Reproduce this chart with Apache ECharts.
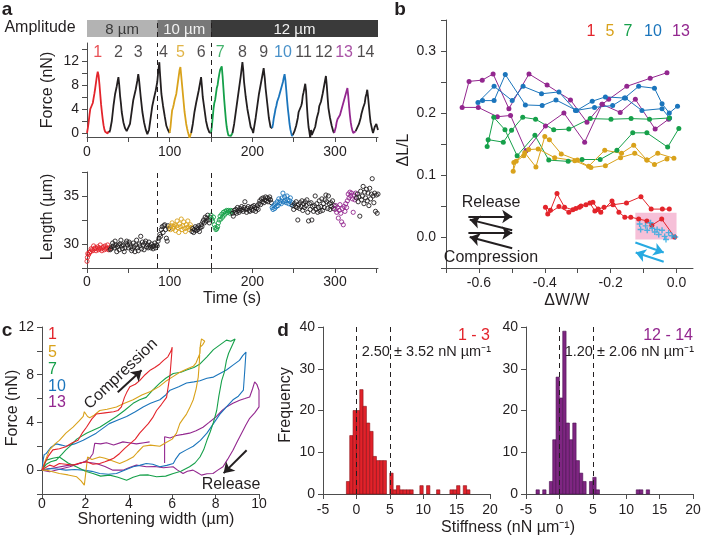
<!DOCTYPE html>
<html><head><meta charset="utf-8">
<script src="https://cdn.jsdelivr.net/npm/echarts@6/dist/echarts.min.js"></script>
<style>html,body{margin:0;padding:0;background:#fff}#c{width:701px;height:537px}</style>
</head><body><div id="c"></div><script>
// ---------------- DATA ----------------
// Panel a: amplitude segments
const ampStart = [0, 85, 150];
const ampEnd = [85, 150, 352];
const ampText = ['8 µm', '10 µm', '12 µm'];
const stepTimes = [85, 150];
// cycle labels
const cycleNames = ['1','2','3','4','5','6','7','8','9','10','11','12','13','14'];
const cycleTimes = [13, 38, 62, 92.5, 113, 138, 161, 188, 213.7, 237, 262, 286.5, 311, 337];
// force traces [t(s), F(nN)]
const forceRed = [[0,0],[1,0.8],[2,1.8],[3,3],[4,4],[5,4.3],[6,4.2],[7,5],[8,5.8],[9,6.6],[10,7.5],[11,8.5],[12,9.5],[13,10.2],[14,9.6],[15,8.2],[16,6.5],[17,4.8],[18,3.5],[19,2.3],[20,1.3],[21,0.6],[22,0.2],[23,0.5],[24,0.1],[25,-0.1],[26,0.3],[27,0.1]];
const forceBlack1 = [[27,0.1],[28,0.5],[30,2],[32,4.5],[34,6.5],[35,6.8],[36,7.8],[37,8.6],[38,9.3],[39,8],[40,6.2],[41,5],[42,3.5],[44,1.8],[46,0.8],[48,0.3],[50,0],[52,1.5],[54,3.5],[56,5.5],[57,5.8],[59,7.3],[61,8.8],[62,9.8],[63,8.8],[65,6],[67,3.5],[69,1.8],[71,0.6],[73,-0.2],[74,-0.5],[75,0.5],[77,2.5],[79,4.5],[81,5.8],[83,7],[85,8.5],[86,10],[87.5,11.8],[88,10.5],[89,8.5],[90,6.5],[92,4.5],[94,2.8],[96,1.2],[98,0.5],[100,0]];
const forceGold = [[100,0],[101,1],[102,2.5],[103,3.8],[104,4.2],[105,4.8],[106,5.5],[107,5.2],[108,6.5],[109,7.5],[110,8.5],[111,9.5],[112,10.5],[113,11],[114,9.5],[115,8],[116,6.5],[117,5],[118,3.5],[119,2.5],[120,1.5],[121,0.8],[122,0.2],[123,-0.3],[124,-0.8],[125,-0.5],[126,0]];
const forceBlack2 = [[126,0],[128,1.5],[130,3.5],[132,5],[133,5.3],[135,7],[137,8.5],[138,9.3],[139,7.8],[140,6],[142,4],[144,2],[146,0.8],[148,0.1],[149,0.3],[150,0]];
const forceGreen = [[150,0],[151,1],[152,2.5],[153,4],[154,5],[155,5.5],[156,6.5],[157,7.5],[158,8],[159,9],[160,9.8],[161,10.5],[162,10.8],[163,11.1],[164,9.5],[165,7.5],[166,5.5],[167,3.8],[168,2.2],[169,1],[170,0.2],[171,-0.4],[172,-0.6],[173,-0.3],[174,-0.5],[175,-0.2],[176,0]];
const forceBlack3 = [[176,0],[178,1.5],[180,3.5],[182,5.5],[184,7.5],[186,9.5],[188,11.8],[189,10.5],[190,8.5],[192,6],[194,4],[196,2.5],[198,1],[200,0.5],[201,0],[202,0.8],[204,2.5],[206,4.5],[208,6.5],[210,8],[212,9.5],[213.7,10.8],[215,9.2],[216,7.5],[218,5],[220,2.5],[222,1],[224,0.8]];
const forceBlue = [[224,0.8],[225,1.5],[226,2.5],[227,3.2],[228,4],[229,4.5],[230,5.2],[231,5.5],[232,6],[233,6.5],[234,7],[235,7.5],[236,8],[237,8.5],[238,9.2],[239,9.8],[240,8.8],[241,7.2],[242,5.5],[243,4],[244,2.8],[245,1.5],[246,0.6],[247,0],[248,-0.5],[249,-0.3]];
const forceBlack4 = [[249,-0.3],[251,0.3],[253,1.2],[255,2.5],[256,3.5],[258,3.2],[259,4.5],[260,5],[261,6.2],[262,6.8],[263,7.5],[264,8.2],[265,7],[266,4.5],[267,2.5],[268,1],[269,0.2],[270,-0.8],[271,0.5],[272,-0.3],[274,0],[276,1],[278,2.5],[280,3.5],[281,4.5],[283,5.2],[285,6.5],[287,8],[289,9.5],[290,8],[291,6],[292,4.2],[294,2.5],[296,1.2],[298,0.2],[299,0]];
const forcePurple = [[299,0],[300,0.5],[301,1],[302,1.8],[303,2.3],[304,2.5],[305,2.2],[306,3],[307,3.5],[308,4],[309,4.5],[310,5],[311,5.5],[312,6],[313,6.5],[314,7],[315,7.5],[316,6.2],[317,4.5],[318,3],[319,1.8],[320,1],[321,0.4],[322,0],[323,0.2],[324,-0.2],[325,0.3]];
const forceBlack5 = [[325,0.3],[327,0.5],[329,1.5],[331,2.5],[332,3.2],[334,4.2],[336,5],[337,6],[338,6.5],[339,7.2],[340,6],[341,4.5],[342,3],[343,1.8],[345,0.5],[346,0],[347,0.3],[348,1],[349,1.3],[350,1.5],[351,1.2],[352,0.5]];
// length [t(s), L(µm)]
const lenRed = [[0,28.2],[0.5,28.6],[1,29.0],[2,28.9],[3,29.1],[4,29.2],[5,29.5],[6,29.4],[7,29.3],[8,29.8],[9,29.5],[10,29.6],[11,29.3],[12,29.5],[13,29.7],[14,29.4],[15,29.6],[16,29.9],[17,29.5],[18,29.3],[19,29.6],[20,29.7],[21,29.4],[22,29.8],[23,29.5],[24,29.6],[25,29.9],[26,29.4],[27,29.6]];
const lenBlack1 = [[28,29.4],[29,29.5],[30,29.7],[31,30.1],[32,29.8],[33,29.6],[34,30.3],[35,29.9],[36,29.2],[37,29.7],[38,29.9],[39,29.4],[40,30.0],[41,30.4],[42,29.8],[43,29.5],[44,29.9],[45,29.2],[46,29.6],[47,30.1],[48,30.3],[49,29.9],[50,29.6],[51,30.2],[52,30.0],[53,29.7],[54,29.3],[55,29.5],[56,30.1],[57,29.7],[58,29.2],[59,29.9],[60,30.4],[61,29.6],[62,29.3],[63,30.0],[64,29.8],[65,30.8],[66,29.5],[67,30.2],[68,29.9],[69,29.4],[70,30.1],[71,30.3],[72,29.7],[73,29.9],[74,29.6],[75,30.2],[76,29.8],[77,29.6],[78,30.0],[79,29.7],[80,29.5],[81,29.8],[82,30.1],[83,29.6],[84,29.9],[85,29.8],[86,30.3],[87,30.6],[88,31.0],[89,30.8],[90,31.5],[91,31.8],[92,31.2],[93,31.9],[94,32.0],[95,31.5],[96,30.6],[97,30.3],[98,31.9],[99,31.6]];
const lenGold = [[100,31.8],[101,31.5],[102,31.9],[103,32.2],[104,31.6],[105,31.8],[106,32.0],[107,31.4],[108,31.9],[109,32.4],[110,31.7],[111,31.2],[112,32.1],[113,31.8],[114,32.6],[115,31.5],[116,31.9],[117,32.3],[118,31.6],[119,31.3],[120,32.0],[121,31.7],[122,32.4],[123,31.8],[124,31.5],[125,32.0],[126,31.7]];
const lenBlack2 = [[127,31.3],[128,31.6],[129,31.2],[130,31.5],[131,31.8],[132,31.4],[133,31.7],[134,31.5],[135,31.9],[136,31.3],[137,31.7],[138,32.0],[139,31.8],[140,32.3],[141,32.5],[142,32.2],[143,32.8],[144,32.4],[145,32.7],[146,33.0],[147,32.5],[148,32.2],[149,32.8]];
const lenGreen = [[150,33.0],[151,32.6],[152,32.4],[153,32.8],[154,32.0],[155,31.7],[156,31.5],[157,31.6],[158,31.8],[159,32.2],[160,32.5],[161,32.9],[162,32.6],[163,33.1],[164,32.8],[165,33.3],[166,33.0],[167,33.4],[168,33.2],[169,33.5],[170,33.3],[171,33.5],[172,33.4],[173,33.2],[174,33.5],[175,33.4]];
const lenBlack3 = [[176,33.2],[177,32.9],[178,33.5],[179,33.3],[180,33.6],[181,33.2],[182,33.8],[183,33.5],[184,33.3],[185,33.7],[186,33.5],[187,33.9],[188,33.6],[189,33.4],[190,33.8],[191,34.4],[192,33.6],[193,33.3],[194,33.7],[195,33.9],[196,33.5],[197,33.4],[198,33.8],[199,33.6],[200,33.9],[201,33.5],[202,34.0],[203,33.8],[204,33.4],[205,33.7],[206,34.0],[207,33.6],[208,34.2],[209,34.5],[210,34.1],[211,34.7],[212,34.4],[213,34.8],[214,34.3],[215,34.6],[216,34.9],[217,34.5],[218,34.8],[219,34.4],[220,34.7],[221,34.9],[222,34.6],[223,34.3]];
const lenBlue = [[224,33.8],[225,33.6],[226,34.0],[227,33.7],[228,34.2],[229,33.9],[230,34.4],[231,34.0],[232,34.7],[233,34.3],[234,34.5],[235,34.2],[236,34.8],[237,35.3],[238,34.4],[239,34.9],[240,34.5],[241,34.3],[242,35.0],[243,34.6],[244,34.2],[245,34.5],[246,34.8],[247,34.1],[248,34.3]];
const lenBlack4 = [[249,34.0],[250,33.6],[251,34.2],[252,33.9],[253,34.4],[254,33.8],[255,32.5],[256,34.1],[257,33.7],[258,34.3],[259,33.9],[260,34.5],[261,33.5],[262,34.2],[263,33.8],[264,34.4],[265,34.0],[266,34.6],[267,33.3],[268,32.4],[269,34.2],[270,33.6],[271,34.3],[272,32.5],[273,33.9],[274,33.4],[275,34.0],[276,35.0],[277,33.6],[278,34.2],[279,33.3],[280,33.8],[281,34.5],[282,33.4],[283,33.9],[284,34.7],[285,33.5],[286,34.2],[287,33.8],[288,34.6],[289,35.1],[290,34.4],[291,33.7],[292,35.0],[293,34.2],[294,33.6],[295,34.3],[296,33.9],[297,34.5],[298,33.7],[299,34.0]];
const lenPurple = [[300,33.6],[301,34.0],[302,33.3],[303,33.8],[304,32.7],[305,33.5],[306,34.1],[307,33.2],[308,32.3],[309,33.7],[310,32.0],[311,33.9],[312,33.4],[313,34.2],[314,33.8],[315,34.5],[316,35.2],[317,34.8],[318,35.4],[319,35.0],[320,35.3],[321,34.7],[322,33.3],[323,35.1],[324,34.6],[325,35.3]];
const lenBlack5 = [[326,34.8],[327,35.2],[328,34.4],[329,34.9],[330,32.9],[331,35.5],[332,34.6],[333,35.0],[334,36.0],[335,34.2],[336,35.4],[337,34.8],[338,35.7],[339,34.5],[340,35.3],[341,34.0],[342,35.8],[343,34.7],[344,35.2],[345,36.8],[346,35.0],[347,34.3],[348,35.3],[349,33.4],[350,35.1],[351,33.2],[352,35.2]];
const timeTicks = [0,50,100,150,200,250,300,350];
const timeLabels = [0,100,200,300];
const forceTicks = [0,2,4,6,8,10,12,14];
const forceLabels = [0,4,8,12];
const lengthTicks = [27.5,30,32.5,35,37.5];
const lengthLabels = [30,35];

// Panel b: [ΔW/W, ΔL/L]
const bNames = ['1','5','7','10','13'];
const bRed = [[-0.006,0.0],[-0.045,0.029],[-0.075,0.019],[-0.09,0.026],[-0.115,0.029],[-0.139,0.032],[-0.157,0.032],[-0.175,0.040],[-0.196,0.058],[-0.230,0.040],[-0.248,0.042],[-0.263,0.055],[-0.290,0.050],[-0.306,0.046],[-0.327,0.040],[-0.357,0.049],[-0.391,0.037],[-0.398,0.048],[-0.383,0.043],[-0.363,0.070],[-0.340,0.048],[-0.315,0.044],[-0.295,0.048],[-0.275,0.052],[-0.254,0.056],[-0.238,0.045],[-0.220,0.048],[-0.193,0.052],[-0.152,0.055],[-0.108,0.065],[-0.077,0.045],[-0.043,0.045],[-0.022,0.045]];
const bGold = [[-0.008,0.127],[-0.057,0.135],[-0.090,0.124],[-0.130,0.148],[-0.167,0.135],[-0.218,0.140],[-0.267,0.114],[-0.301,0.124],[-0.350,0.134],[-0.386,0.157],[-0.400,0.162],[-0.427,0.113],[-0.461,0.136],[-0.494,0.120],[-0.496,0.106],[-0.487,0.122],[-0.464,0.131],[-0.449,0.141],[-0.420,0.142],[-0.370,0.128],[-0.309,0.123],[-0.260,0.112],[-0.216,0.115],[-0.170,0.128],[-0.127,0.135],[-0.090,0.124],[-0.067,0.117],[-0.029,0.126]];
const bGreen = [[0.007,0.175],[-0.027,0.145],[-0.090,0.168],[-0.133,0.168],[-0.181,0.140],[-0.232,0.125],[-0.287,0.125],[-0.329,0.122],[-0.388,0.124],[-0.430,0.164],[-0.484,0.131],[-0.521,0.173],[-0.555,0.193],[-0.575,0.146],[-0.572,0.157],[-0.526,0.153],[-0.501,0.172],[-0.467,0.193],[-0.428,0.190],[-0.373,0.173],[-0.327,0.174],[-0.262,0.191],[-0.199,0.190],[-0.138,0.191],[-0.082,0.190],[-0.022,0.192]];
const bBlue = [[0.003,0.211],[-0.022,0.200],[-0.044,0.215],[-0.067,0.240],[-0.115,0.243],[-0.158,0.224],[-0.194,0.212],[-0.249,0.209],[-0.307,0.204],[-0.357,0.234],[-0.410,0.231],[-0.466,0.243],[-0.499,0.220],[-0.554,0.243],[-0.603,0.217],[-0.589,0.220],[-0.554,0.220],[-0.520,0.262],[-0.459,0.213],[-0.408,0.212],[-0.366,0.221],[-0.303,0.204],[-0.256,0.219],[-0.216,0.226],[-0.155,0.224],[-0.105,0.204],[-0.044,0.207],[-0.021,0.192]];
const bPurple = [[-0.024,0.190],[-0.065,0.174],[-0.125,0.222],[-0.171,0.201],[-0.226,0.214],[-0.279,0.153],[-0.342,0.200],[-0.398,0.179],[-0.457,0.139],[-0.504,0.196],[-0.544,0.194],[-0.602,0.209],[-0.651,0.209],[-0.630,0.251],[-0.590,0.253],[-0.557,0.263],[-0.509,0.207],[-0.448,0.263],[-0.393,0.245],[-0.322,0.221],[-0.272,0.185],[-0.226,0.214],[-0.206,0.222],[-0.151,0.243],[-0.080,0.256],[-0.029,0.265]];
const bCross = [[-0.112,0.021],[-0.109,0.012],[-0.094,0.018],[-0.089,0.011],[-0.079,0.023],[-0.074,0.014],[-0.066,0.008],[-0.059,0.012],[-0.054,0.004],[-0.044,0.011],[-0.036,0.001],[-0.032,-0.004],[-0.024,0.007],[-0.014,0.002],[-0.004,0.0]];
const bBox = [[-0.125, 0.039], [0.0, -0.004]];
const bArrowsBlack = [[[-0.632,0.033],[-0.499,0.033]],[[-0.499,0.011],[-0.628,0.028]],[[-0.632,0.0065],[-0.499,0.0065]],[[-0.499,-0.018],[-0.628,0.0]]];
const bArrowsCyan = [[[-0.125,-0.009],[-0.039,-0.025]],[[-0.039,-0.040],[-0.124,-0.025]]];
const bxTicks = [-0.7,-0.6,-0.5,-0.4,-0.3,-0.2,-0.1,0];
const bxLabels = [-0.6,-0.4,-0.2,0];
const byTicks = [-0.05,0,0.05,0.1,0.15,0.2,0.25,0.3,0.35];
const byLabels = [0,0.1,0.2,0.3];

// Panel c: [shortening width (µm), force (nN)]
const cRed = [[0,0],[0.12,0.56],[0.3,1.2],[0.5,1.7],[0.8,1.8],[1.1,1.96],[1.4,2.3],[1.66,2.5],[1.85,3.1],[2.05,3.6],[2.3,4.3],[2.5,4.7],[2.9,4.8],[3.3,4.9],[3.5,5.0],[3.66,5.3],[3.8,6.1],[3.9,6.5],[4.05,7.0],[4.3,7.2],[4.5,7.5],[4.75,8.0],[5.0,8.4],[5.2,8.6],[5.43,8.9],[5.6,9.2],[5.8,9.5],[5.95,10.0],[6.0,10.3],[5.98,9.8],[5.9,8.0],[5.74,6.1],[5.5,5.5],[5.28,5.0],[5.1,4.4],[4.9,3.9],[4.7,3.5],[4.5,3.1],[4.3,2.6],[4.05,2.2],[3.8,1.8],[3.58,1.4],[3.3,1.0],[3.1,0.84],[2.9,0.7],[2.66,0.56],[2.35,0.5],[2.05,0.7],[1.75,0.6],[1.43,0.42],[1.1,0.5],[0.8,0.56],[0.55,0.3],[0.35,0.42],[0.15,0.2],[0,0]];
const cGold = [[0,0],[0.15,0.8],[0.35,1.7],[0.6,2.2],[0.8,2.5],[1.1,3.1],[1.43,3.6],[1.7,4.1],[1.9,4.5],[1.95,4.9],[2.1,4.5],[2.2,4.4],[2.4,4.6],[2.66,5.0],[3.0,5.1],[3.43,5.3],[3.8,5.6],[4.2,5.9],[4.6,6.3],[5.0,6.6],[5.4,7.0],[5.74,7.5],[6.0,7.8],[6.35,8.2],[6.7,8.5],[6.97,8.7],[7.1,9.0],[7.28,9.8],[7.3,10.5],[7.35,11.0],[7.5,10.8],[7.4,10.5],[7.28,10.3],[7.25,9.0],[7.2,7.8],[7.1,6.8],[6.97,5.9],[6.8,5.2],[6.66,4.7],[6.5,4.3],[6.35,3.9],[6.2,3.1],[6.0,2.6],[5.7,2.3],[5.43,2.0],[5.0,2.1],[4.66,2.0],[4.4,1.5],[4.2,1.1],[3.9,0.8],[3.58,0.56],[3.2,0.8],[2.9,1.0],[2.66,1.1],[2.3,0.9],[2.1,1.1],[2.0,-0.5],[1.95,-1.26],[1.8,-0.9],[1.6,-0.56],[1.2,-0.4],[0.8,-0.28],[0.4,-0.1],[0.2,0],[0,0]];
const cGreen = [[0,0],[0.2,0.5],[0.4,0.7],[0.66,0.84],[0.9,1.3],[1.1,1.7],[1.28,2.0],[1.6,2.6],[2.05,3.1],[2.3,3.3],[2.66,3.6],[3.0,4.0],[3.43,4.5],[3.8,5.0],[4.2,5.6],[4.5,5.9],[4.8,6.1],[5.1,6.7],[5.43,7.3],[5.7,7.7],[6.05,8.1],[6.4,8.2],[6.66,8.4],[7.0,8.6],[7.28,8.9],[7.6,9.5],[7.9,10.1],[8.2,10.5],[8.5,10.9],[8.7,10.8],[8.9,11.0],[8.95,10.9],[8.8,10.6],[8.6,9.8],[8.5,9.2],[8.4,8.2],[8.28,7.5],[8.15,6.2],[8.05,5.0],[7.9,4.0],[7.75,3.2],[7.6,2.5],[7.45,1.7],[7.28,1.1],[7.05,0.6],[6.8,0.28],[6.4,-0.1],[6.05,-0.28],[5.7,-0.5],[5.28,-0.56],[4.9,-0.4],[4.5,-0.42],[4.2,-0.6],[3.9,-0.84],[3.5,-0.6],[3.12,-0.42],[2.7,-0.5],[2.35,-0.28],[2.0,-0.1],[1.58,0.28],[1.2,0.6],[0.8,1.1],[0.5,1.0],[0.2,0.84],[0,0]];
const cBlue = [[0,0],[0.05,0.8],[0.1,1.3],[0.2,1.4],[0.4,1.9],[0.66,2.2],[0.9,2.1],[1.1,2.0],[1.5,2.2],[1.9,2.5],[2.2,2.8],[2.5,3.1],[2.8,3.5],[3.1,3.9],[3.5,4.2],[3.9,4.5],[4.3,4.9],[4.66,5.3],[5.0,5.6],[5.43,5.9],[5.7,6.3],[5.9,6.7],[6.3,7.0],[6.66,7.3],[7.0,7.4],[7.28,7.5],[7.6,7.7],[7.9,7.8],[8.2,8.1],[8.5,8.4],[8.8,8.8],[9.1,9.2],[9.25,9.6],[9.4,9.9],[9.35,8.5],[9.28,6.7],[9.05,6.2],[8.8,5.9],[8.5,5.3],[8.2,4.7],[7.9,3.9],[7.6,3.1],[7.3,2.5],[6.97,2.0],[6.65,1.7],[6.35,1.4],[6.15,0.9],[6.05,0.56],[5.75,0.4],[5.43,0.28],[5.1,0.5],[4.8,0.56],[4.5,0.4],[4.2,0.28],[3.8,0],[3.43,-0.28],[3.05,-0.35],[2.66,-0.28],[2.3,-0.1],[1.9,0],[1.5,0.05],[1.1,0],[0.7,0.1],[0.35,0.14],[0,0]];
const cPurpleA = [[0,0],[0.6,0.2],[1.2,0.4],[1.6,0.5],[1.97,0.7],[2.2,1.0],[2.35,1.4],[2.43,2.25],[2.7,2.2],[2.97,2.3],[3.3,2.1],[3.73,2.37],[4.0,2.3],[4.35,2.2],[4.7,2.3],[4.96,2.37]];
const cPurpleB = [[5.65,0.6],[5.65,2.8],[5.9,2.7],[6.19,2.9],[6.5,3.0],[6.8,3.1],[7.1,3.3],[7.42,3.6],[7.7,4.0],[8.04,4.5],[8.3,5.0],[8.5,5.3],[8.8,5.6],[9.11,5.86],[9.35,6.0],[9.57,6.13],[9.7,6.8],[9.8,7.4],[9.9,7.2],[10.0,6.7],[10.0,5.3],[9.8,4.8],[9.57,4.35],[9.4,3.8],[9.27,3.35],[9.0,2.4],[8.8,1.67],[8.55,0.9],[8.34,0.28],[8.1,0],[7.88,-0.28],[7.6,-0.3],[7.35,-0.42],[7.15,-0.2],[6.96,0],[6.7,-0.1],[6.5,-0.28],[6.25,0],[6.04,0.28],[5.6,0.2],[5.2,0.3],[4.81,0.28],[4.35,0.42],[4.0,0.2],[3.73,0],[3.27,0],[2.9,0.3],[2.5,0.56],[1.97,0.7],[1.28,0.28],[0.35,-0.14],[0,0]];
const cNames = ['1','5','7','10','13'];
const cArrows = [[[3.49,6.53],[4.59,8.37]],[[9.43,1.67],[8.37,-0.25]]];
const cxTicks = [0,2,4,6,8,10];
const cxLabels = [0,2,4,6,8,10];
const cyTicks = [-2,0,2,4,6,8,10,12];
const cyLabels = [0,4,8,12];

// Panel d: histograms [bin start, count], bin width 0.5 nN/µm
const histBin = 0.5;
const dLeft = [[-1.5,3],[-1,14],[-0.5,20],[0,20],[0.5,25],[1,21],[1.5,17],[2,15],[2.5,9],[3,8],[3.5,8],[4,8],[5,5],[5.5,1],[6,2],[6.5,1],[7,1],[7.5,1],[8,1],[9.5,2],[10.5,2],[12,1],[14,1],[14.5,1],[15,2],[16,2],[16.5,1]];
const dRight = [[-3.5,1],[-2.5,1],[-1.5,3],[-1,13],[-0.5,28],[0,23],[0.5,39],[1,17],[1.5,13],[2,17],[2.5,8],[3,5],[3.5,3],[4.5,3],[5,4],[5.5,1],[11.5,1],[12,1],[13,1]];
const dLines = [0, 5];
const dTitles = ['1 - 3', '12 - 14'];
const dStats = ['2.50 ± 3.52 nN µm⁻¹', '1.20 ± 2.06 nN µm⁻¹'];
const dxTicks = [-5,0,5,10,15,20];
const dxLabels = [-5,0,5,10,15,20];
const dyTicks = [0,10,20,30,40];
const dyLabels = [0,10,20,30,40];

// ---------------- STYLE ----------------
const FONT = '"Liberation Sans", Arial, Helvetica, sans-serif';
const INK = '#231f20';
const AXC = '#4d4d4d';
const RED = '#e3242b', GOLD = '#d9a21b', GREEN = '#16a04a', BLUE = '#1b75bc', PURPLE = '#93278f', BLK = '#231f20', CYAN = '#27aae1';
const cycleColors = [RED,BLK,BLK,BLK,GOLD,BLK,GREEN,BLK,BLK,BLUE,BLK,BLK,PURPLE,BLK];
const bColors = [RED, GOLD, GREEN, BLUE, PURPLE];
const ampColors = ['#b3b3b3', '#787878', '#3a3a3a'];
const ampTextColors = ['#3a3a3a', '#f2f2f2', '#f2f2f2'];
const CYCLE_LABEL_Y = 13.4;

const grids = [
  {left: 87, top: 43, width: 291, height: 94},     // 0 force
  {left: 87, top: 172, width: 291, height: 96},    // 1 length
  {left: 446, top: 20, width: 247, height: 248},   // 2 b
  {left: 42, top: 327, width: 217, height: 167},   // 3 c
  {left: 323, top: 327, width: 167, height: 167},  // 4 d left
  {left: 526, top: 327, width: 167, height: 167},  // 5 d right
  {left: 87, top: 20, width: 291, height: 17}      // 6 amplitude bar
].map(g => Object.assign({containLabel: false, outerBoundsMode: 'none', show: false}, g));

function ax(grid, min, max, ticks, labels, fmt, margin) {
  return {
    type: 'value', gridIndex: grid, min, max,
    axisLine: {show: true, onZero: false, lineStyle: {color: AXC, width: 1}},
    axisTick: {show: true, inside: false, length: 5, lineStyle: {color: AXC, width: 1}, customValues: ticks},
    axisLabel: {show: true, customValues: labels, fontSize: 14, color: INK, fontFamily: FONT, margin: margin == null ? 7 : margin,
      formatter: fmt || (v => String(v))},
    splitLine: {show: false}
  };
}
const f1 = v => v.toFixed(1);
const hidden = g => ({type: 'value', gridIndex: g, min: 0, max: 1, show: false, splitLine: {show: false}});

const xAxis = [
  ax(0, 0, 352, timeTicks, timeLabels, null, 8),
  ax(1, 0, 352, timeTicks, timeLabels),
  ax(2, -0.7, 0.05, bxTicks, bxLabels, f1, 8),
  ax(3, 0, 10, cxTicks, cxLabels, null, 3),
  ax(4, -5, 20, dxTicks, dxLabels, null, 9),
  ax(5, -5, 20, dxTicks, dxLabels, null, 9),
  Object.assign(hidden(6), {min: 0, max: 352})
];
const yAxis = [
  ax(0, -0.67, 15, forceTicks, forceLabels, null, 8),
  ax(1, 27.5, 37.5, lengthTicks, lengthLabels, null, 8),
  ax(2, -0.05, 0.35, byTicks, byLabels, f1, 10),
  ax(3, -2, 12, cyTicks, cyLabels, null, 8),
  ax(4, 0, 40, dyTicks, dyLabels, null, 8),
  ax(5, 0, 40, dyTicks, dyLabels, null, 8),
  hidden(6)
];

const dashML = (vals) => ({silent: true, symbol: 'none', label: {show: false}, animation: false,
  lineStyle: {type: [5, 4], color: INK, width: 1}, data: vals.map(v => ({xAxis: v}))});

function line(xi, data, color, width, extra) {
  return Object.assign({type: 'line', xAxisIndex: xi, yAxisIndex: xi, data, symbol: 'none', showSymbol: false,
    lineStyle: {color, width}, itemStyle: {color}, silent: true, animation: false, z: 3}, extra || {});
}
function scat(xi, data, color) {
  return {type: 'scatter', xAxisIndex: xi, yAxisIndex: xi, data, symbol: 'circle', symbolSize: 4.2,
    itemStyle: {color: 'rgba(255,255,255,0)', borderColor: color, borderWidth: 0.9, opacity: 1}, silent: true, animation: false};
}
function arrowML(pairs, color, width, size) {
  return {silent: true, animation: false, symbol: ['none', 'arrow'], symbolSize: size, label: {show: false},
    lineStyle: {type: 'solid', color, width}, itemStyle: {color},
    data: pairs.map(p => [{coord: p[0]}, {coord: p[1]}])};
}
function hist(xi, data, fill, edge) {
  return {type: 'custom', xAxisIndex: xi, yAxisIndex: xi, data, silent: true, animation: false,
    renderItem: (params, api) => {
      const x0 = api.value(0), c = api.value(1);
      const p0 = api.coord([x0, c]), p1 = api.coord([x0 + histBin, 0]);
      return {type: 'rect', shape: {x: p0[0], y: p0[1], width: p1[0] - p0[0], height: p1[1] - p0[1]},
        style: {fill, stroke: edge, lineWidth: 0.6}};
    }};
}

const series = [
  // amplitude bar
  {type: 'custom', xAxisIndex: 6, yAxisIndex: 6, silent: true, animation: false,
    data: ampStart.map((s, i) => [s, ampEnd[i], i]),
    renderItem: (params, api) => {
      const i = api.value(2);
      const p0 = api.coord([api.value(0), 1]), p1 = api.coord([api.value(1), 0]);
      return {type: 'group', children: [
        {type: 'rect', shape: {x: p0[0], y: p0[1], width: p1[0] - p0[0], height: p1[1] - p0[1]}, style: {fill: ampColors[i]}},
        {type: 'text', style: {text: ampText[i], x: (p0[0] + p1[0]) / 2, y: (p0[1] + p1[1]) / 2 + 1, align: 'center', verticalAlign: 'middle',
          fill: ampTextColors[i], fontSize: 15, fontFamily: FONT}}
      ]};
    },
    markLine: dashML(stepTimes)},
  // force
  line(0, forceRed, RED, 1.8, {markLine: dashML(stepTimes)}),
  line(0, forceBlack1, BLK, 1.8), line(0, forceGold, GOLD, 1.8), line(0, forceBlack2, BLK, 1.8),
  line(0, forceGreen, GREEN, 1.8), line(0, forceBlack3, BLK, 1.8), line(0, forceBlue, BLUE, 1.8),
  line(0, forceBlack4, BLK, 1.8), line(0, forcePurple, PURPLE, 1.8), line(0, forceBlack5, BLK, 1.8),
  {type: 'scatter', xAxisIndex: 0, yAxisIndex: 0, symbolSize: 0, silent: true, animation: false,
    data: cycleTimes.map((t, i) => ({value: [t, CYCLE_LABEL_Y], name: cycleNames[i],
      label: {show: true, position: 'inside', formatter: cycleNames[i], color: cycleColors[i], fontSize: 16, fontFamily: FONT}}))},
  // length
  Object.assign(scat(1, lenRed, RED), {markLine: dashML(stepTimes)}),
  scat(1, lenBlack1, BLK), scat(1, lenGold, GOLD), scat(1, lenBlack2, BLK), scat(1, lenGreen, GREEN),
  scat(1, lenBlack3, BLK), scat(1, lenBlue, BLUE), scat(1, lenBlack4, BLK), scat(1, lenPurple, PURPLE), scat(1, lenBlack5, BLK),
  // b
  line(2, bPurple, PURPLE, 1, {symbol: 'circle', showSymbol: true, symbolSize: 5}),
  line(2, bBlue, BLUE, 1, {symbol: 'circle', showSymbol: true, symbolSize: 5}),
  line(2, bGreen, GREEN, 1, {symbol: 'circle', showSymbol: true, symbolSize: 5}),
  line(2, bGold, GOLD, 1, {symbol: 'circle', showSymbol: true, symbolSize: 5}),
  line(2, bRed, RED, 1, {symbol: 'circle', showSymbol: true, symbolSize: 5,
    markArea: {silent: true, itemStyle: {color: 'rgba(240,150,190,0.6)'}, data: [[{coord: bBox[0]}, {coord: bBox[1]}]]}}),
  {type: 'scatter', xAxisIndex: 2, yAxisIndex: 2, data: bCross, silent: true, animation: false, z: 4,
    symbol: 'path://M5,0 L5,10 M0,5 L10,5', symbolSize: 6, itemStyle: {color: 'none', borderColor: CYAN, borderWidth: 1.4}},
  line(2, [], BLK, 1, {markLine: arrowML(bArrowsBlack, BLK, 2, 10)}),
  line(2, [], CYAN, 1, {markLine: arrowML(bArrowsCyan, CYAN, 2.2, 10)}),
  // c
  line(3, cPurpleA, PURPLE, 1.1), line(3, cPurpleB, PURPLE, 1.1),
  line(3, cBlue, BLUE, 1.1), line(3, cGreen, GREEN, 1.1), line(3, cGold, GOLD, 1.1), line(3, cRed, RED, 1.1),
  line(3, [], BLK, 1, {markLine: arrowML(cArrows, BLK, 2, 10)}),
  // d
  hist(4, dLeft, '#e2222a', '#8a1117'),
  hist(5, dRight, '#7f2682', '#4a1050'),
  line(4, [], BLK, 1, {markLine: dashML(dLines)}),
  line(5, [], BLK, 1, {markLine: dashML(dLines)})
];

function txt(text, x, y, o) {
  o = o || {};
  return {type: 'text', x, y, rotation: o.rot || 0, silent: true, z: 10,
    style: {text, x: 0, y: 0, align: o.align || 'center', verticalAlign: 'middle', fill: o.color || INK,
      fontSize: o.size || 16, fontFamily: FONT, fontWeight: o.bold ? 'bold' : 'normal'}};
}
const R90 = Math.PI / 2;
const graphic = [
  txt('a', 7, 10, {bold: true, size: 19}), txt('b', 400, 10, {bold: true, size: 19}),
  txt('c', 7, 331, {bold: true, size: 19}), txt('d', 283, 331, {bold: true, size: 19}),
  txt('Amplitude', 40, 28),
  txt('Force (nN)', 48, 90, {rot: R90}), txt('Length (µm)', 48, 217, {rot: R90}), txt('Time (s)', 232, 299),
  txt('ΔL/L', 404, 150, {rot: R90}), txt('ΔW/W', 567, 301),
  txt('Release', 491, 203), txt('Compression', 491, 258),
  txt('Force (nN)', 13, 408, {rot: R90}), txt('Shortening width (µm)', 156, 520),
  txt('Compression', 121, 374, {rot: 0.76}), txt('Release', 231, 485),
  txt('Frequency', 286, 405, {rot: R90}), txt('Stiffness (nN µm⁻¹)', 508, 528),
  txt(dTitles[0], 490, 336, {align: 'right', color: RED}), txt(dStats[0], 491, 352, {align: 'right', size: 14.5}),
  txt(dTitles[1], 693, 336, {align: 'right', color: PURPLE}), txt(dStats[1], 694, 352, {align: 'right', size: 14.5})
];
const bLegX = [591, 610, 628, 653, 681];
bNames.forEach((n, i) => graphic.push(txt(n, bLegX[i], 32, {color: bColors[i]})));
const cLegY = [335, 353, 370, 387, 403];
cNames.forEach((n, i) => graphic.push(txt(n, 48, cLegY[i], {color: bColors[i], align: 'left'})));

const chart = echarts.init(document.getElementById('c'), null, {renderer: 'canvas'});
chart.setOption({animation: false, backgroundColor: '#fff', grid: grids, xAxis, yAxis, series, graphic});
</script></body></html>
